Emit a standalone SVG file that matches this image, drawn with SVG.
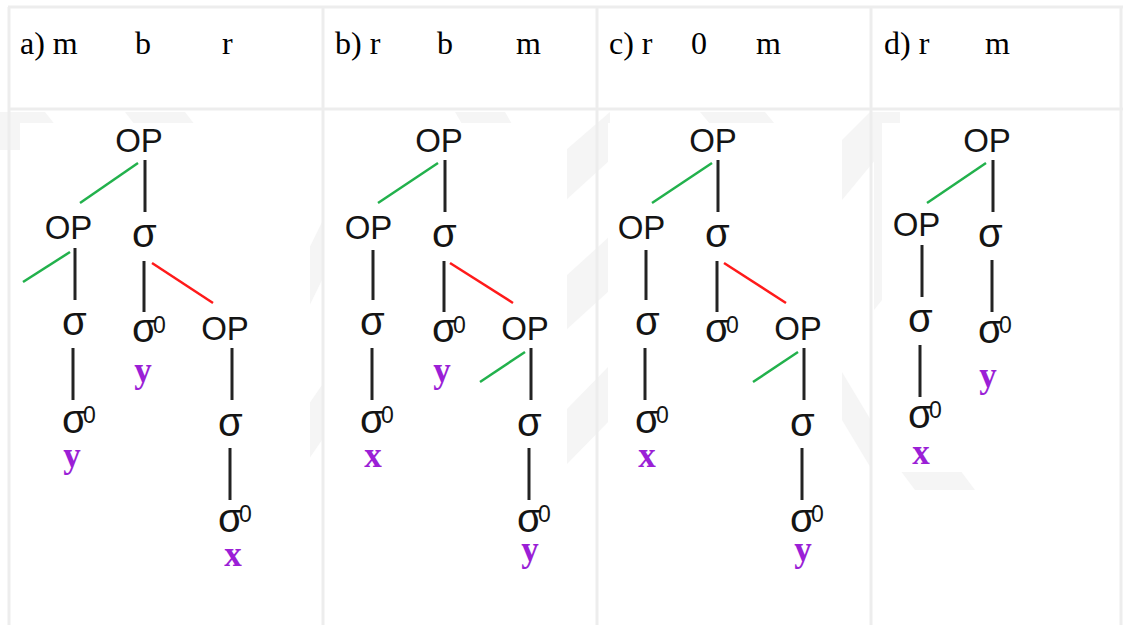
<svg xmlns="http://www.w3.org/2000/svg" width="1123" height="625" viewBox="0 0 1123 625">
<style>
.grid{stroke:#ededed;stroke-width:3;fill:none}
.wm{fill:#f5f5f5}
.bg{fill:#ffffff}
.hd{font-family:"Liberation Serif",serif;font-size:32px;fill:#000}
.op{font-family:"Liberation Sans",sans-serif;font-size:33px;fill:#141414;text-anchor:middle}
.sg{font-family:"Liberation Sans",sans-serif;font-size:40px;fill:#141414}
.sup{font-size:23px}
.lb{font-family:"Liberation Serif",serif;font-weight:bold;font-size:35px;fill:#9b1fd6;text-anchor:middle}
.k{stroke:#232323;stroke-width:3}
.g{stroke:#22b14c;stroke-width:2.5}
.r{stroke:#ff1a1a;stroke-width:2.5}
</style>
<rect width="1123" height="625" fill="#ffffff"/>
<g id="watermark">
<polygon class="wm" points="0,112 45,112 75,150 30,150 0,150"/>
<polygon class="wm" points="125,112 185,112 195,125 135,125"/>
<polygon class="wm" points="322,222 322,280 300,325 300,267"/>
<polygon class="wm" points="322,385 322,440 300,472 300,417"/>
<polygon class="wm" points="455,112 505,112 512,124 462,124"/>
<polygon class="wm" points="610,112 610,160 566,200 566,150"/>
<polygon class="wm" points="610,236 610,290 566,330 566,276"/>
<polygon class="wm" points="610,365 610,420 566,465 566,410"/>
<polygon class="wm" points="700,112 765,112 775,124 710,124"/>
<polygon class="wm" points="900,112 900,130 842,200 842,140 870,112"/>
<polygon class="wm" points="842,372 842,420 872,470 872,422"/>
<polygon class="wm" points="874,150 882,140 882,300 874,310"/>
<polygon class="wm" points="900,470 960,470 975,490 915,490"/>
</g>
<g id="images">
<rect class="bg" x="20" y="123" width="290" height="480"/>
<rect class="bg" x="335" y="123" width="232" height="480"/>
<rect class="bg" x="608" y="123" width="232" height="480"/>
<rect class="bg" x="882" y="123" width="241" height="349"/>
</g>
<g id="table">
<line class="grid" x1="8" y1="7" x2="1123" y2="7"/>
<line class="grid" x1="9" y1="7" x2="9" y2="625"/>
<line class="grid" x1="9" y1="109" x2="1123" y2="109"/>
<line class="grid" x1="323" y1="7" x2="323" y2="625"/>
<line class="grid" x1="597" y1="7" x2="597" y2="625"/>
<line class="grid" x1="871" y1="7" x2="871" y2="625"/>
<line class="grid" x1="1121" y1="7" x2="1121" y2="625"/>
</g>
<g id="headers">
<text class="hd" y="54"><tspan x="20">a) m</tspan><tspan x="135">b</tspan><tspan x="222">r</tspan></text>
<text class="hd" y="54"><tspan x="335">b) r</tspan><tspan x="437">b</tspan><tspan x="516">m</tspan></text>
<text class="hd" y="54"><tspan x="609">c) r</tspan><tspan x="691">0</tspan><tspan x="756">m</tspan></text>
<text class="hd" y="54"><tspan x="884">d) r</tspan><tspan x="985">m</tspan></text>
</g>
<g id="connectors">
<g transform="translate(0,0)">
<line class="g" x1="138" y1="163" x2="80" y2="203"/>
<line class="k" x1="145" y1="160" x2="145" y2="212"/>
<line class="g" x1="70" y1="252" x2="23" y2="282"/>
<line class="k" x1="75" y1="248" x2="75" y2="300"/>
<line class="k" x1="144" y1="261" x2="144" y2="312"/>
<line class="r" x1="152" y1="263" x2="213" y2="303"/>
<line class="k" x1="73" y1="348" x2="73" y2="400"/>
<line class="k" x1="232" y1="348" x2="232" y2="400"/>
<line class="k" x1="230" y1="448" x2="230" y2="500"/>
</g>
<g transform="translate(300,0)">
<line class="g" x1="138" y1="163" x2="78" y2="203"/>
<line class="k" x1="145" y1="160" x2="145" y2="212"/>
<line class="k" x1="73" y1="250" x2="73" y2="300"/>
<line class="k" x1="144" y1="261" x2="144" y2="312"/>
<line class="r" x1="150" y1="263" x2="213" y2="303"/>
<line class="k" x1="72" y1="348" x2="72" y2="400"/>
<line class="g" x1="225" y1="352" x2="180" y2="382"/>
<line class="k" x1="231" y1="348" x2="231" y2="400"/>
<line class="k" x1="229" y1="448" x2="229" y2="500"/>
</g>
<g transform="translate(573,0)">
<line class="g" x1="139" y1="163" x2="79" y2="203"/>
<line class="k" x1="145" y1="160" x2="145" y2="212"/>
<line class="k" x1="73" y1="250" x2="73" y2="300"/>
<line class="k" x1="144" y1="261" x2="144" y2="312"/>
<line class="r" x1="151" y1="263" x2="213" y2="303"/>
<line class="k" x1="72" y1="348" x2="72" y2="400"/>
<line class="g" x1="225" y1="352" x2="180" y2="382"/>
<line class="k" x1="231" y1="348" x2="231" y2="400"/>
<line class="k" x1="229" y1="448" x2="229" y2="500"/>
</g>
<g transform="translate(848,0)">
<line class="g" x1="138" y1="163" x2="79" y2="203"/>
<line class="k" x1="145" y1="160" x2="145" y2="212"/>
<line class="k" x1="74" y1="245" x2="74" y2="297"/>
<line class="k" x1="72" y1="345" x2="72" y2="397"/>
<line class="k" x1="144" y1="260" x2="144" y2="312"/>
</g>
</g>
<g id="panel-a">
<g id="a-op1"><text class="op" x="139" y="152">OP</text></g>
<g id="a-op2"><text class="op" x="68.5" y="239">OP</text></g>
<g id="a-s1"><text class="sg" x="132" y="247">σ</text></g>
<g id="a-s2"><text class="sg" x="62" y="335">σ</text></g>
<g id="a-s0a"><text class="sg" x="132" y="342">σ<tspan class="sup" x="153" y="333">0</tspan></text><text class="lb" x="143" y="382">y</text></g>
<g id="a-op3"><text class="op" x="225" y="340">OP</text></g>
<g id="a-s0b"><text class="sg" x="62" y="433">σ<tspan class="sup" x="83" y="423">0</tspan></text><text class="lb" x="72" y="467">y</text></g>
<g id="a-s3"><text class="sg" x="218" y="436">σ</text></g>
<g id="a-s0c"><text class="sg" x="218" y="532">σ<tspan class="sup" x="239" y="522">0</tspan></text><text class="lb" x="233" y="566">x</text></g>
</g>
<g id="panel-b" transform="translate(300,0)">
<g id="b-op1"><text class="op" x="139" y="152">OP</text></g>
<g id="b-op2"><text class="op" x="68.5" y="239">OP</text></g>
<g id="b-s1"><text class="sg" x="132" y="247">σ</text></g>
<g id="b-s2"><text class="sg" x="60" y="335">σ</text></g>
<g id="b-s0a"><text class="sg" x="132" y="342">σ<tspan class="sup" x="153" y="333">0</tspan></text><text class="lb" x="142" y="382">y</text></g>
<g id="b-op3"><text class="op" x="225" y="340">OP</text></g>
<g id="b-s0b"><text class="sg" x="60" y="433">σ<tspan class="sup" x="81" y="423">0</tspan></text><text class="lb" x="73" y="467">x</text></g>
<g id="b-s3"><text class="sg" x="217" y="436">σ</text></g>
<g id="b-s0c"><text class="sg" x="217" y="532">σ<tspan class="sup" x="238" y="522">0</tspan></text><text class="lb" x="230" y="561">y</text></g>
</g>
<g id="panel-c" transform="translate(573,0)">
<g id="c-op1"><text class="op" x="140" y="152">OP</text></g>
<g id="c-op2"><text class="op" x="68.5" y="239">OP</text></g>
<g id="c-s1"><text class="sg" x="132" y="247">σ</text></g>
<g id="c-s2"><text class="sg" x="62" y="335">σ</text></g>
<g id="c-s0a"><text class="sg" x="132" y="342">σ<tspan class="sup" x="153" y="333">0</tspan></text></g>
<g id="c-op3"><text class="op" x="225" y="340">OP</text></g>
<g id="c-s0b"><text class="sg" x="62" y="433">σ<tspan class="sup" x="83" y="423">0</tspan></text><text class="lb" x="74" y="467">x</text></g>
<g id="c-s3"><text class="sg" x="217" y="436">σ</text></g>
<g id="c-s0c"><text class="sg" x="217" y="532">σ<tspan class="sup" x="238" y="522">0</tspan></text><text class="lb" x="230" y="561">y</text></g>
</g>
<g id="panel-d" transform="translate(848,0)">
<g id="d-op1"><text class="op" x="139" y="152">OP</text></g>
<g id="d-op2"><text class="op" x="68.5" y="236">OP</text></g>
<g id="d-s1"><text class="sg" x="130" y="247">σ</text></g>
<g id="d-s2"><text class="sg" x="60" y="332">σ</text></g>
<g id="d-s0a"><text class="sg" x="60" y="428">σ<tspan class="sup" x="81" y="418">0</tspan></text><text class="lb" x="73" y="464">x</text></g>
<g id="d-s0b"><text class="sg" x="130" y="343">σ<tspan class="sup" x="151" y="333">0</tspan></text><text class="lb" x="140" y="387">y</text></g>
</g>
</svg>
